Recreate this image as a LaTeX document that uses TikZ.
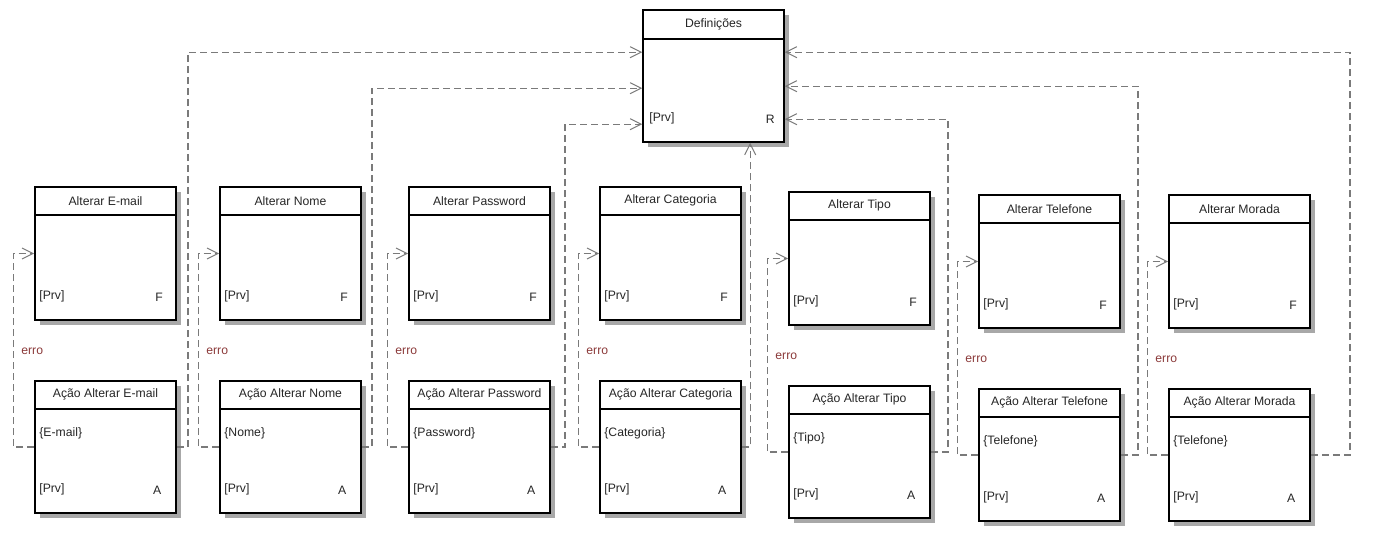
\documentclass[tikz,border=0pt]{standalone}
\usepackage{fontspec}
\setmainfont{Liberation Sans}
\usetikzlibrary{arrows.meta,calc}
\definecolor{linkgray}{HTML}{7A7A7A}
\definecolor{errred}{HTML}{8B3A3A}
\definecolor{txtgray}{HTML}{262626}
\definecolor{shadowgray}{HTML}{A8A8A8}
\begin{document}
\begin{tikzpicture}[x=1pt,y=-1pt,
  box/.style={draw, line width=1.6pt, fill=white, minimum width=141pt, inner sep=0pt},
  boxshadow/.style={fill=shadowgray, draw=none},
  sepline/.style={line width=1.6pt},
  lbl/.style={font=\fontsize{12.2}{14}\selectfont, text=txtgray, inner sep=0pt},
  errlbl/.style={font=\fontsize{12.2}{14}\selectfont, text=errred, inner sep=0pt, anchor=west},
  link/.style={draw=linkgray, line width=1.4pt, dash pattern=on 7pt off 4pt,
    -{Straight Barb[length=11pt,width=11pt,line width=1pt]}},
]
\useasboundingbox (0,0) rectangle (1373,542);

% central definitions box
\path[boxshadow] (648,15) rectangle (789,147);
\node[box, minimum height=132pt] (def) at (713.5,76) {};
\draw[sepline] ($(def.north west)+(0,30)$) -- ($(def.north east)+(0,30)$);
\node[lbl] (deft) at ($(def.north)+(0,15)$) {Definições};
\node[lbl, anchor=west] (defp) at ($(def.south west)+(7,-24)$) {[Prv]};
\node[lbl] (defr) at ($(def.south west)+(128,-24)$) {R};

% form / action pairs
\foreach \n/\x/\dy/\t/\f in {
  mail/35/0/E-mail/E-mail, nome/220/0/Nome/Nome, pass/409/0/Password/Password,
  cat/600/0/Categoria/Categoria, tipo/789/5/Tipo/Tipo, tel/979/8/Telefone/Telefone,
  mor/1169/8/Morada/Telefone}
{
  % form box
  \path[boxshadow] (\x+5, 192+\dy) rectangle (\x+146, 325+\dy);
  \node[box, minimum height=133pt] (f\n) at (\x+70.5, 253.5+\dy) {};
  \draw[sepline] ($(f\n.north west)+(0,29)$) -- ($(f\n.north east)+(0,29)$);
  \node[lbl] (f\n t) at ($(f\n.north)+(0,14.5)$) {Alterar \t};
  \node[lbl, anchor=west] (f\n p) at ($(f\n.south west)+(5,-24)$) {[Prv]};
  \node[lbl] (f\n k) at ($(f\n.south west)+(125,-24)$) {F};
  % action box
  \path[boxshadow] (\x+5, 386+\dy) rectangle (\x+146, 518+\dy);
  \node[box, minimum height=132pt] (a\n) at (\x+70.5, 447+\dy) {};
  \draw[sepline] ($(a\n.north west)+(0,29)$) -- ($(a\n.north east)+(0,29)$);
  \node[lbl] (a\n t) at ($(a\n.north)+(0,14.5)$) {Ação Alterar \t};
  \node[lbl, anchor=west] (a\n v) at ($(a\n.north west)+(5,53)$) {\{\f\}};
  \node[lbl, anchor=west] (a\n p) at ($(a\n.south west)+(5,-24)$) {[Prv]};
  \node[lbl] (a\n k) at ($(a\n.south west)+(123,-24)$) {A};
  % error loop back to the form
  \draw[link] (a\n.west) -- ++(-21,0) |- (f\n.west);
  \node[errlbl] (e\n) at ($(f\n.south west)+(-13,30)$) {erro};
}

% actions returning to the definitions
\draw[link] (amail.east) -- ++(11,0) |- ($(def.north west)+(0,43)$);
\draw[link] (anome.east) -- ++(10,0) |- ($(def.north west)+(0,79)$);
\draw[link] (apass.east) -- ++(14,0) |- ($(def.north west)+(0,115)$);
\draw[link] (acat.east) -| ($(def.south west)+(108,0)$);
\draw[link] (atipo.east) -- ++(17,0) |- ($(def.north east)+(0,110)$);
\draw[link] (atel.east) -- ++(17,0) |- ($(def.north east)+(0,77)$);
\draw[link] (amor.east) -- ++(39,0) |- ($(def.north east)+(0,43)$);
\end{tikzpicture}
\end{document}
